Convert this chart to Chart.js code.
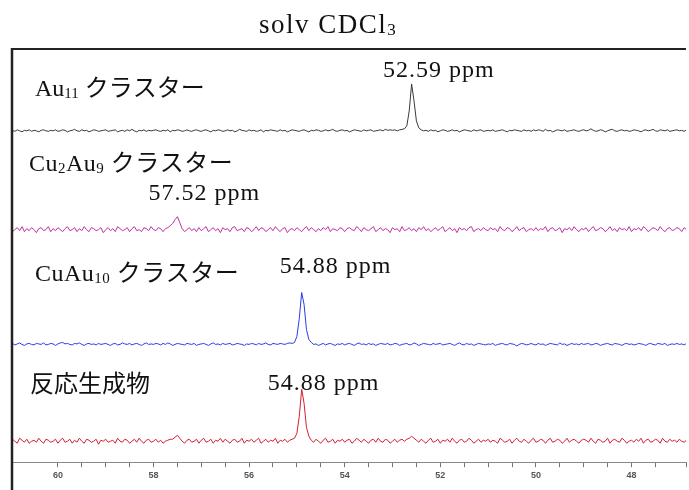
<!DOCTYPE html>
<html lang="ja">
<head>
<meta charset="UTF-8">
<title>solv CDCl3</title>
<script src="https://cdn.jsdelivr.net/npm/chart.js"></script>
<style>
    body { margin: 0; padding: 0; background: #fff; }
    #spec { display: block; }
</style>
</head>
<body>
<canvas id="spec" width="689" height="490"></canvas>
<script>
// chemical shift (ppm), one row = 1 ppm
const ppm = [
    61, 60.95, 60.9, 60.85, 60.8, 60.75, 60.7, 60.65, 60.6, 60.55, 60.5, 60.45, 60.4, 60.35, 60.3, 60.25, 60.2, 60.15, 60.1, 60.05,
    60, 59.95, 59.9, 59.85, 59.8, 59.75, 59.7, 59.65, 59.6, 59.55, 59.5, 59.45, 59.4, 59.35, 59.3, 59.25, 59.2, 59.15, 59.1, 59.05,
    59, 58.95, 58.9, 58.85, 58.8, 58.75, 58.7, 58.65, 58.6, 58.55, 58.5, 58.45, 58.4, 58.35, 58.3, 58.25, 58.2, 58.15, 58.1, 58.05,
    58, 57.95, 57.9, 57.85, 57.8, 57.75, 57.7, 57.65, 57.6, 57.55, 57.5, 57.45, 57.4, 57.35, 57.3, 57.25, 57.2, 57.15, 57.1, 57.05,
    57, 56.95, 56.9, 56.85, 56.8, 56.75, 56.7, 56.65, 56.6, 56.55, 56.5, 56.45, 56.4, 56.35, 56.3, 56.25, 56.2, 56.15, 56.1, 56.05,
    56, 55.95, 55.9, 55.85, 55.8, 55.75, 55.7, 55.65, 55.6, 55.55, 55.5, 55.45, 55.4, 55.35, 55.3, 55.25, 55.2, 55.15, 55.1, 55.05,
    55, 54.95, 54.9, 54.85, 54.8, 54.75, 54.7, 54.65, 54.6, 54.55, 54.5, 54.45, 54.4, 54.35, 54.3, 54.25, 54.2, 54.15, 54.1, 54.05,
    54, 53.95, 53.9, 53.85, 53.8, 53.75, 53.7, 53.65, 53.6, 53.55, 53.5, 53.45, 53.4, 53.35, 53.3, 53.25, 53.2, 53.15, 53.1, 53.05,
    53, 52.95, 52.9, 52.85, 52.8, 52.75, 52.7, 52.65, 52.6, 52.55, 52.5, 52.45, 52.4, 52.35, 52.3, 52.25, 52.2, 52.15, 52.1, 52.05,
    52, 51.95, 51.9, 51.85, 51.8, 51.75, 51.7, 51.65, 51.6, 51.55, 51.5, 51.45, 51.4, 51.35, 51.3, 51.25, 51.2, 51.15, 51.1, 51.05,
    51, 50.95, 50.9, 50.85, 50.8, 50.75, 50.7, 50.65, 50.6, 50.55, 50.5, 50.45, 50.4, 50.35, 50.3, 50.25, 50.2, 50.15, 50.1, 50.05,
    50, 49.95, 49.9, 49.85, 49.8, 49.75, 49.7, 49.65, 49.6, 49.55, 49.5, 49.45, 49.4, 49.35, 49.3, 49.25, 49.2, 49.15, 49.1, 49.05,
    49, 48.95, 48.9, 48.85, 48.8, 48.75, 48.7, 48.65, 48.6, 48.55, 48.5, 48.45, 48.4, 48.35, 48.3, 48.25, 48.2, 48.15, 48.1, 48.05,
    48, 47.95, 47.9, 47.85, 47.8, 47.75, 47.7, 47.65, 47.6, 47.55, 47.5, 47.45, 47.4, 47.35, 47.3, 47.25, 47.2, 47.15, 47.1, 47.05,
    47, 46.95, 46.9, 46.85
];

// Au11 cluster (peak 52.59)
const au11 = [
    0, 0.5, -0.5, 1, 0, -1, 0.5, 0, 1, -0.5, 0.5, 0, -1, 0.5, 1, 0, -0.5, 0.5, 0, 1,
    -0.5, 0, 1, 0.5, -1, 0, 0.5, 1.5, 0, -0.5, 1, 0, 0.5, -1, 0, 1, 0.5, -0.5, 0, 0.5,
    1, -0.5, 0, 0.5, 1, -1, 0, 0.5, -0.5, 1, 0, 1.5, 0, -1, 0.5, 0, 1, -0.5, 0.5, 0,
    0.5, 1, 0, -0.5, 0.5, 0, 1, -1, 0.5, 0, 1, 0.5, -0.5, 0, 1, 0, -0.5, 0.5, 1, 0,
    -0.5, 0.5, 1, 0, -1, 0.5, 0, 1, 0.5, -0.5, 0, 1, 0, 0.5, -1, 0, 1.5, 0.5, 0, -0.5,
    1, 0, 0.5, -0.5, 0, 1, -1, 0.5, 0, 1, 0.5, 0, -0.5, 1, 0, 0.5, -1, 0, 1, 0.5,
    0, -0.5, 0.5, 1, 0, -1, 0.5, 0, 1, 0.5, -0.5, 0, 1, 0, 0.5, 1.5, 0, -0.5, 0.5, 1,
    0, 0.5, -1, 0, 1, 0.5, 0, -0.5, 1, 0, 0.5, 1, -0.5, 0, 0.5, 1, 0, 1.5, 0.5, 1,
    0.5, 1, 0, 1, 1.5, 2, 5, 20, 47, 30, 10, 3, 1, 0, 0.5, -0.5, 1, 0, 0.5, -1,
    0, 1, 0.5, -0.5, 0, 1, 0, 0.5, -1, 0, 1, 0.5, 0, -0.5, 1, 0, 0.5, 1, -0.5, 0,
    0.5, 0, 1, -0.5, 0, 0.5, 1, 0, -1, 0.5, 0, 1, 0.5, 0, -0.5, 1, 0, 0.5, -0.5, 1,
    0, 1, 0.5, -0.5, 1.5, 0, 0.5, -1, 0, 1, 0.5, 0, 1, -0.5, 0, 0.5, 1, 0, -0.5, 0.5,
    1, 0, 0.5, 2, 0.5, -0.5, 0, 1, 0.5, -1, 0, 1, 1.5, 0, -0.5, 0.5, 1, 0, 0.5, -0.5,
    0, 1, 0.5, 0, -1, 0.5, 1, 0, 0.5, 1.5, 0, -0.5, 1, 0.5, 0, 1, -0.5, 0, 0.5, 1,
    0, 0.5, -0.5, 1
];

// Cu2Au9 cluster (peak 57.52)
const cu2au9 = [
    1, -2, 0, 2, -1, 3, -2, 1, -1, 2, 0, -3, 1, 2, -1, 0, 3, -2, 1, -1,
    2, 0, -2, 1, 3, -1, 0, 2, -2, 1, -1, 3, 0, -2, 2, 1, -1, 0, 2, -3,
    0, 2, -1, 1, -2, 3, 1, -1, 0, 2, -2, 1, 3, -1, 0, -2, 2, 1, -1, 3,
    0, -1, 2, 1, -2, 1, 2, 4, 6, 10, 13, 7, 1, -2, 0, 2, -1, 1, -2, 2,
    -1, 1, 3, -2, 0, 2, -1, 1, -3, 2, 0, 1, -2, 2, 3, -1, 0, 1, -2, 2,
    1, -2, 0, 3, -1, 2, 1, -2, 0, 2, -1, 3, 0, -2, 1, 2, -3, 0, 1, -1,
    2, 0, -2, 1, 3, -1, 2, 0, -2, 1, -1, 2, 0, 3, -2, 1, 0, -1, 2, 1,
    -2, 1, 2, 0, -1, 3, 1, -2, 2, 0, -1, 1, 3, -2, 0, 2, -1, 1, 0, -3,
    2, 0, 1, -2, 3, -1, 0, 2, -1, 1, -2, 2, 0, 3, -1, 1, -2, 0, 2, -1,
    1, 3, -2, 0, 2, -1, 1, -3, 2, 0, 1, -1, 2, 3, -2, 0, 1, -1, 2, 0,
    -1, 2, 0, 1, -2, 3, 0, -1, 2, 1, -2, 0, 3, -1, 1, 2, -2, 0, 1, -1,
    2, -1, 1, 0, 3, -2, 1, 2, -1, 0, 2, -3, 1, 0, 2, -1, 3, 0, -2, 1,
    0, 2, -2, 1, 3, -1, 0, 2, 1, -2, 0, 3, -1, 1, -2, 2, 0, 1, -1, 3,
    -2, 1, 0, 2, -1, 3, 1, -2, 0, 2, 1, -1, 3, 0, -2, 1, 2, -1, 0, 2,
    1, -2, 2, 0
];

// CuAu10 cluster (peak 54.88)
const cuau10 = [
    0, 1, -0.5, 0.5, 1.5, 0, -1, 0.5, 1, 0, -0.5, 1, 0.5, 0, 1.5, -0.5, 0, 1, 0.5, -1,
    0.5, 1.5, 2, 0.5, 1, 0, -0.5, 1, 0.5, 1.5, 0, -1, 0.5, 1, 0, 0.5, -0.5, 1, 0, 0.5,
    1, 0, -1, 0.5, 1, -0.5, 0, 1.5, 0.5, 0, 1, -0.5, 0.5, 1, 0, -1, 0.5, 1.5, 0, 0.5,
    0, 1, 0.5, -0.5, 1, 0, 1.5, 0.5, -1, 0, 1, 0.5, 0, -0.5, 1, 0.5, 0, 1, -1, 0,
    0.5, 1, 0, -1, 0.5, 1.5, 0, 0.5, -0.5, 1, 0, 0.5, 1, -0.5, 0, 1, 0.5, 0, -1, 0.5,
    0, 1, 0.5, -0.5, 1, 0, 0.5, 1.5, 0, -0.5, 1, 0.5, 0, 1, 0.5, 0, 1, 1.5, 1, 2,
    8, 26, 52, 40, 15, 5, 2, 0, 0.5, -1, 0, 1, -0.5, 0.5, 1, 0, -1, 0.5, 0, 1,
    -0.5, 0.5, 1, 0, -1, 0.5, 1.5, 0, 0.5, -0.5, 1, 0, 0.5, -1, 0, 1, 0.5, 0, 1, -0.5,
    0, 1, 0.5, -1, 0, 0.5, 1, -0.5, 0, 1.5, 0.5, -1, 0, 1, 0.5, 0, -0.5, 1, 0, 0.5,
    1, -0.5, 0, 0.5, 1, 0, -1, 0.5, 1.5, 0, -0.5, 1, 0, 0.5, -1, 0, 1, 0.5, 0, -0.5,
    0.5, 0, 1, -1, 0, 0.5, 1, 0, -0.5, 1, 0.5, 0, -1.5, 0, 1, 0.5, -0.5, 0, 1, 0,
    -0.5, 1, 0, 0.5, -1, 0, 1, 0.5, 0, -0.5, 1.5, 0, 0.5, -1, 0, 1, 0, 0.5, -0.5, 1,
    0, 0.5, 1, -0.5, 0, 1, 0.5, -1, 0, 0.5, 1, 0, -0.5, 1, 0.5, 0, -1, 0.5, 1, 0,
    0.5, -0.5, 0, 1, 0.5, 0, -1, 0.5, 1, 0, -0.5, 1, 0.5, 0, 1, -1, 0, 0.5, 0, 1,
    0, 0.5, -0.5, 1
];

// reaction product
const product = [
    -1, 2, 0, -2, 3, 1, -1, 2, -2, 0, 1, -1, 3, 0, -2, 2, 1, -1, 0, 2,
    -2, 1, 3, -1, 0, 2, -2, 1, -1, 3, 0, -2, 2, 1, -1, 0, 2, -3, 1, 0,
    2, -1, 0, 1, -2, 3, 0, -1, 2, 1, -2, 0, 2, -1, 3, 0, -2, 1, 2, -1,
    0, 2, -1, 1, -2, 0, 1, 2, 2, 4, 6, 3, 0, -2, 1, 2, -1, 0, 2, -2,
    1, 3, -1, 0, 2, -2, 1, 0, 3, -1, 2, 0, -2, 1, 2, -1, 0, 3, -2, 1,
    0, 2, -1, 1, 3, -2, 0, 2, -1, 1, 0, 3, -2, 1, 0, 2, -1, 1, 2, 3,
    8, 25, 52, 38, 14, 5, 1, -1, 2, 0, -2, 1, 3, -1, 0, 2, -2, 1, 0, 2,
    -1, 1, 2, -2, 0, 3, 1, -1, 2, 0, -2, 1, 2, -1, 3, 0, -1, 2, 1, -2,
    0, 2, -1, 1, 2, 0, 2, 3, 5, 3, 1, -1, 2, 0, -2, 1, 3, -1, 0, 2,
    -2, 1, 0, 2, -1, 3, 0, -2, 1, 2, -1, 0, 3, 1, -2, 0, 2, -1, 1, 0,
    2, -1, 1, 0, -2, 3, 1, -1, 0, 2, -2, 1, 3, 0, -1, 2, 0, -2, 1, 3,
    -1, 0, 2, 1, -2, 1, 3, -1, 0, 2, 1, -2, 0, 3, -1, 1, 2, 0, -2, 1,
    2, 1, -1, 3, 0, -2, 2, 1, -1, 0, 3, -2, 1, 2, 0, -1, 3, 1, -2, 0,
    1, -1, 2, 0, 3, -2, 1, 2, -1, 0, 2, 1, -2, 3, 0, -1, 2, 0, 1, -1,
    2, 0, -1, 1
];

const xTickLabels = [60, 58, 56, 54, 52, 50, 48];

const SERIF = '"Liberation Serif", "Noto Sans CJK JP", serif';

function toPoints(values) {
    return ppm.map((x, i) => ({ x: x, y: values[i] }));
}

// draw text made of [text, isSubscript] pieces
function drawRich(ctx, x, y, parts, size, spacing) {
    let cx = x;
    ctx.letterSpacing = (spacing || 0) + 'px';
    parts.forEach(p => {
        const sub = p[1];
        ctx.font = (sub ? Math.round(size * 0.62) : size) + 'px ' + SERIF;
        ctx.fillText(p[0], cx, y + (sub ? 2 : 0));
        cx += ctx.measureText(p[0]).width;
    });
    ctx.letterSpacing = '0px';
}

const labelPlugin = {
    id: 'specLabels',
    afterDraw(chart) {
        const { ctx, chartArea } = chart;
        const xs = chart.scales.x;
        ctx.save();

        // frame: top and left edge
        ctx.strokeStyle = '#222';
        ctx.lineWidth = 2;
        ctx.beginPath();
        ctx.moveTo(chartArea.left, chartArea.top);
        ctx.lineTo(chartArea.right, chartArea.top);
        ctx.stroke();
        ctx.lineWidth = 2.5;
        ctx.beginPath();
        ctx.moveTo(chartArea.left, chartArea.top - 1);
        ctx.lineTo(chartArea.left, chart.height);
        ctx.stroke();

        ctx.fillStyle = '#111';
        ctx.textBaseline = 'alphabetic';
        ctx.textAlign = 'left';

        // title
        drawRich(ctx, 259, 33, [['solv CDCl', false], ['3', true]], 27, 1.5);

        // sample names
        drawRich(ctx, 35, 96, [['Au', false], ['11', true], [' クラスター', false]], 24);
        drawRich(ctx, 29, 171, [['Cu', false], ['2', true], ['Au', false], ['9', true], [' クラスター', false]], 24, 0.5);
        drawRich(ctx, 35, 281, [['CuAu', false], ['10', true], [' クラスター', false]], 24, 0.5);
        drawRich(ctx, 30, 392, [['反応生成物', false]], 24);

        // peak labels
        drawRich(ctx, xs.getPixelForValue(52.59) - 29, 77, [['52.59 ppm', false]], 24, 1);
        drawRich(ctx, xs.getPixelForValue(57.52) - 28, 200, [['57.52 ppm', false]], 24, 1);
        drawRich(ctx, xs.getPixelForValue(54.88) - 23, 273, [['54.88 ppm', false]], 24, 1);
        drawRich(ctx, xs.getPixelForValue(54.88) - 35, 390, [['54.88 ppm', false]], 24, 1);
        ctx.restore();
    }
};

function trace(values, color, axis) {
    return {
        data: toPoints(values),
        borderColor: color,
        borderWidth: 1,
        pointRadius: 0,
        tension: 0,
        fill: false,
        yAxisID: axis
    };
}

function hiddenY(min, max) {
    return { type: 'linear', display: false, min: min, max: max };
}

new Chart(document.getElementById('spec'), {
    type: 'line',
    data: {
        datasets: [
            trace(au11, '#3a3a3a', 'yA'),
            trace(cu2au9, '#c0309f', 'yB'),
            trace(cuau10, '#2a3de8', 'yC'),
            trace(product, '#d42030', 'yD')
        ]
    },
    options: {
        responsive: false,
        animation: false,
        layout: { padding: { left: 12, top: 49, right: 0, bottom: 6 } },
        plugins: {
            legend: { display: false },
            tooltip: { enabled: false },
            title: { display: false }
        },
        scales: {
            x: {
                type: 'linear',
                reverse: true,
                min: 46.86,
                max: 60.96,
                grid: { drawOnChartArea: false, drawTicks: true, tickLength: 5, color: '#777' },
                border: { color: '#888', width: 1 },
                ticks: {
                    stepSize: 0.5,
                    autoSkip: false,
                    maxRotation: 0,
                    padding: 3,
                    color: '#555',
                    font: { family: '"Liberation Sans", Arial', size: 9, weight: 'bold' },
                    callback: v => xTickLabels.includes(v) ? String(v) : ''
                }
            },
            yA: hiddenY(-332, 82),
            yB: hiddenY(-233, 181),
            yC: hiddenY(-118, 296),
            yD: hiddenY(-21, 393)
        }
    },
    plugins: [labelPlugin]
});
</script>
</body>
</html>
